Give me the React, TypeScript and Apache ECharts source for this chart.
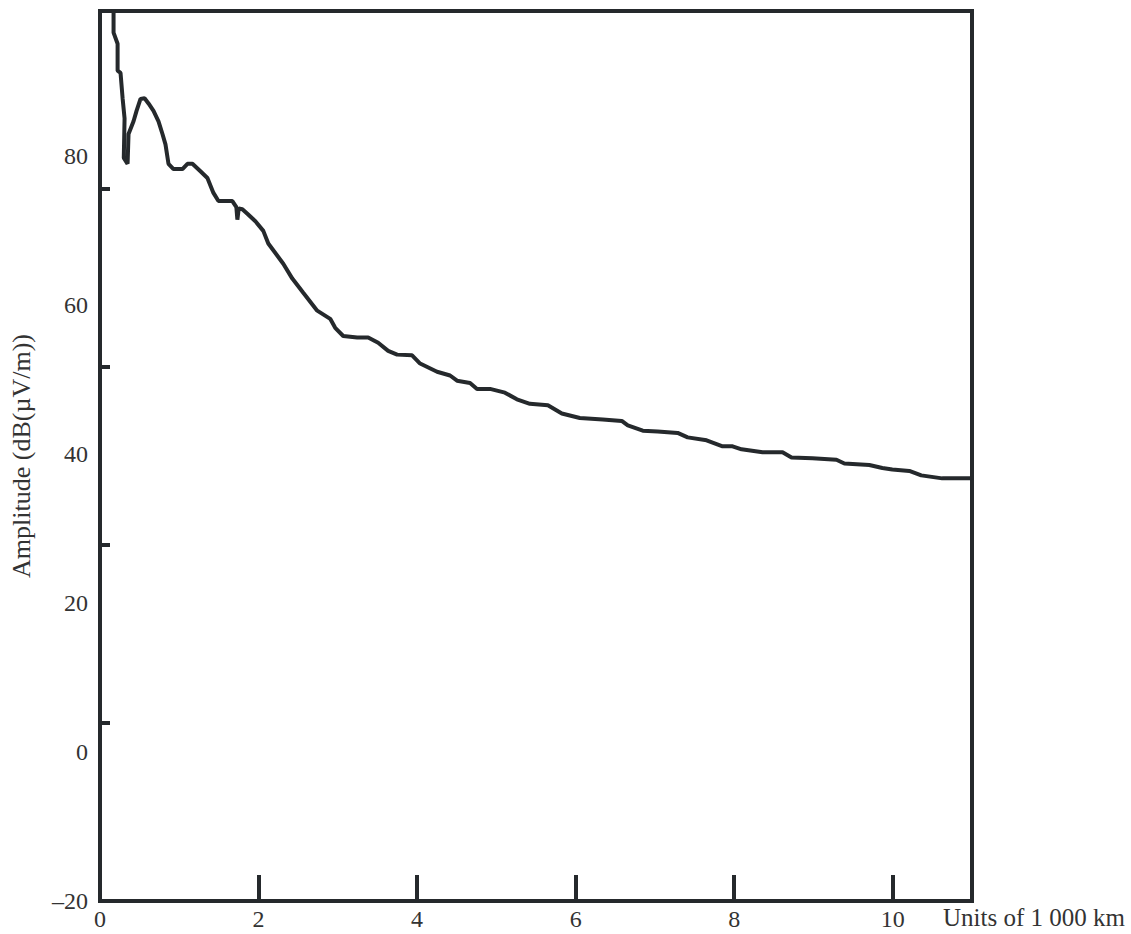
import React, { useEffect, useRef } from "react";
import * as echarts from "echarts";

// Distance in units of 1 000 km
const distance = [
  0.171, 0.171, 0.222, 0.222, 0.259, 0.285, 0.31, 0.3, 0.348, 0.36, 0.423, 0.461,
  0.511, 0.562, 0.612, 0.675, 0.738, 0.788, 0.826, 0.864, 0.927, 1.04, 1.103,
  1.166, 1.267, 1.355, 1.431, 1.494, 1.67, 1.72, 1.733, 1.75, 1.796, 1.859, 1.96,
  2.06, 2.123, 2.312, 2.426, 2.564, 2.74, 2.904, 2.967, 3.068, 3.244, 3.383,
  3.509, 3.635, 3.748, 3.937, 4.038, 4.252, 4.416, 4.504, 4.668, 4.756, 4.92,
  5.108, 5.259, 5.423, 5.65, 5.826, 6.053, 6.342, 6.582, 6.658, 6.847, 7.035,
  7.287, 7.413, 7.652, 7.854, 7.98, 8.093, 8.358, 8.61, 8.723, 8.987, 9.29, 9.39,
  9.705, 9.869, 9.995, 10.209, 10.36, 10.624, 11.0,
];

// Amplitude in dB(µV/m)
const amplitude = [
  100, 96.5, 95.0, 91.4, 91.1, 87.7, 85.0, 79.7, 78.9, 82.9, 84.6, 86.0,
  87.6, 87.7, 87.0, 86.0, 84.6, 82.9, 81.5, 78.9, 78.2, 78.2, 78.9,
  78.9, 77.9, 77.0, 75.0, 73.9, 73.9, 73.1, 71.4, 72.9, 72.8, 72.2, 71.2,
  69.9, 68.2, 65.5, 63.5, 61.6, 59.2, 58.1, 56.9, 55.8, 55.6, 55.6,
  54.9, 53.8, 53.3, 53.2, 52.1, 51.0, 50.5, 49.8, 49.5, 48.7, 48.7,
  48.2, 47.3, 46.7, 46.5, 45.4, 44.8, 44.6, 44.4, 43.8, 43.1, 43.0,
  42.8, 42.2, 41.8, 41.0, 41.0, 40.6, 40.2, 40.2, 39.5, 39.4, 39.2, 38.7,
  38.5, 38.1, 37.9, 37.7, 37.1, 36.7, 36.7,
];

const xTickLabels = [0, 2, 4, 6, 8, 10];
const xTickMarks = [2, 4, 6, 8, 10];
const yTickLabels = [-20, 0, 20, 40, 60, 80];

const INK = "#25292c";
const TEXT = "#333333";
const SERIF = "'Liberation Serif', 'Times New Roman', serif";

export default function App() {
  const ref = useRef<HTMLDivElement>(null);

  useEffect(() => {
    if (!ref.current) return;
    const chart = echarts.init(ref.current, null, { renderer: "svg" });
    const data = distance.map((d, i) => [d, amplitude[i]]);
    chart.setOption({
      animation: false,
      backgroundColor: "#ffffff",
      grid: {
        left: 100,
        right: 159,
        top: 11,
        bottom: 33,
        show: true,
        containLabel: false,
        outerBoundsMode: "none",
        borderColor: INK,
        borderWidth: 4,
        backgroundColor: "transparent",
      },
      xAxis: {
        type: "value",
        min: 0,
        max: 11,
        interval: 2,
        axisLine: { show: false, onZero: false },
        splitLine: { show: false },
        axisTick: {
          show: true,
          inside: true,
          length: 26,
          customValues: xTickMarks,
          lineStyle: { color: INK, width: 4 },
        },
        axisLabel: {
          customValues: xTickLabels,
          formatter: (v: number) => (v > 10 ? "" : String(v)),
          fontFamily: SERIF,
          fontSize: 24,
          color: TEXT,
          margin: 6,
        },
        name: "Units of 1 000 km",
        nameLocation: "end",
        nameGap: -29,
        nameTextStyle: {
          fontFamily: SERIF,
          fontSize: 25,
          color: TEXT,
          align: "left",
          verticalAlign: "top",
          padding: [4, 0, 0, 0],
        },
      },
      yAxis: [
        {
          type: "value",
          min: -20,
          max: 99.4,
          interval: 20,
          axisLine: { show: false, onZero: false },
          splitLine: { show: false },
          axisTick: { show: false },
          axisLabel: {
            customValues: yTickLabels,
            formatter: (v: number) =>
              v > 80 ? "" : v < 0 ? "\u2013" + Math.abs(v) : String(v),
            fontFamily: SERIF,
            fontSize: 24,
            color: TEXT,
            margin: 12,
          },
          name: "Amplitude (dB(\u00B5V/m))",
          nameLocation: "middle",
          nameGap: 66,
          nameTextStyle: {
            fontFamily: SERIF,
            fontSize: 26,
            color: TEXT,
          },
        },
        {
          type: "value",
          position: "left",
          min: 0,
          max: 5,
          interval: 1,
          axisLine: { show: false, onZero: false },
          splitLine: { show: false },
          axisLabel: { show: false },
          axisTick: {
            show: true,
            inside: true,
            length: 10,
            lineStyle: { color: INK, width: 4 },
          },
        },
      ],
      series: [
        {
          type: "line",
          data,
          yAxisIndex: 0,
          showSymbol: false,
          symbol: "none",
          clip: true,
          lineStyle: { color: INK, width: 4 },
        },
      ],
    });
    return () => chart.dispose();
  }, []);

  return (
    <div
      ref={ref}
      style={{ position: "fixed", left: 0, top: 0, width: 1131, height: 934 }}
    />
  );
}
